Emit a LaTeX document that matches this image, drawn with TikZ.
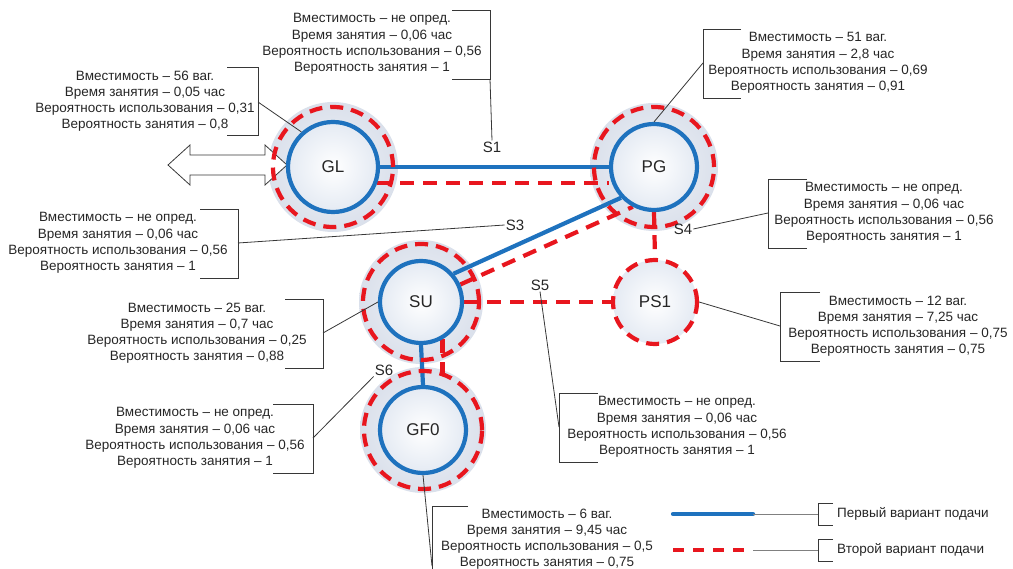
\documentclass[tikz,border=0pt]{standalone}
\usepackage{fontspec}
\setmainfont{Liberation Sans}
\usetikzlibrary{calc}
\definecolor{bl}{RGB}{30,114,190}
\definecolor{rd}{RGB}{232,22,30}
\definecolor{halo}{RGB}{218,224,235}
\definecolor{nfill}{RGB}{228,234,243}
\definecolor{ln}{RGB}{55,55,55}
\newcommand{\callfont}{\fontsize{13.5}{16.2}\selectfont}
\pgfdeclarelayer{halolayer}
\pgfdeclarelayer{links}
\pgfsetlayers{halolayer,links,main}
\begin{document}
\begin{tikzpicture}[x=1pt,y=-1pt,
  bnode/.style={circle, draw=bl, line width=4.2pt, inner sep=0pt, minimum size=#1,
    inner color=white, outer color=nfill, font=\fontsize{17}{20}\selectfont, text=black!85},
  rnode/.style={circle, draw=rd, line width=4.2pt, dash pattern=on 13pt off 8pt, inner sep=0pt,
    minimum size=#1, inner color=white, outer color=nfill, font=\fontsize{17}{20}\selectfont, text=black!85},
  redring/.style={draw=rd, line width=4.2pt, dash pattern=on 13pt off 8pt},
  haloshade/.style={inner color=halo!40, outer color=halo},
  bluelink/.style={draw=bl, line width=4.2pt},
  redlink/.style={draw=rd, line width=4.2pt, dash pattern=on 14pt off 9pt},
  call/.style={align=center, font=\callfont, inner sep=0pt, text=black!85},
  brk/.style={draw=ln, line width=0.9pt},
  lead/.style={draw=ln, line width=0.8pt},
  slab/.style={font=\fontsize{15}{18}\selectfont, inner sep=1pt, text=black!85},
  legtext/.style={font=\callfont, anchor=west, inner sep=0pt, text=black!85},
  dblarrow/.style={draw=ln, fill=white, line width=0.8pt, line join=miter}
]
\useasboundingbox (0,0) rectangle (1013,569);

% centres
\coordinate (cGL) at (333,167);
\coordinate (cPG) at (654,167);
\coordinate (cSU) at (421,302);
\coordinate (cGF) at (423,430);
\coordinate (cPS) at (655,302);

% halos
\begin{pgfonlayer}{halolayer}
  \shade[haloshade] (cGL) circle[radius=65pt];
  \shade[haloshade] (cPG) circle[radius=64pt];
  \shade[haloshade] (cSU) circle[radius=62pt];
  \shade[haloshade] (cGF) circle[radius=63pt];
\end{pgfonlayer}

% nodes
\node[bnode=90pt] (GL) at (cGL) {GL};
\node[bnode=86pt] (PG) at (cPG) {PG};
\node[bnode=82pt] (SU) at (cSU) {SU};
\node[bnode=86pt] (GF0) at (cGF) {GF0};
\node[rnode=84pt] (PS1) at (cPS) {PS1};

% red dashed rings
\draw[redring] (GL) circle[radius=60pt];
\draw[redring] (PG) circle[radius=60pt];
\draw[redring] (SU) circle[radius=58pt];
\draw[redring] (GF0) circle[radius=59pt];

% connectors
\begin{pgfonlayer}{links}
  \draw[dblarrow] (168,165) -- (190,145) -- (190,155) -- (265,155) -- (265,145) -- (287,165)
     -- (265,185) -- (265,175) -- (190,175) -- (190,185) -- cycle;
  \draw[bluelink] (GL.east) -- (PG.west);
  \draw[redlink] (GL.-20) -- (GL.-20 -| PG.west);
  \draw[bluelink] (PG.223) -- (SU.41);
  \draw[redlink] (SU.24) -- (PG.242);
  \draw[redlink] (PG.south) -- (PS1.north);
  \draw[redlink] (SU.east) -- (PS1.west);
  \draw[bluelink] (SU.south) -- (GF0.north);
  \draw[redlink] (SU.-60) -- (SU.-60 |- GF0.north);
\end{pgfonlayer}

% segment labels
\node[slab] (S1) at (492,147) {S1};
\node[slab] (S3) at (515,225) {S3};
\node[slab] (S4) at (683,229) {S4};
\node[slab] (S5) at (540,285) {S5};
\node[slab] (S6) at (384,370) {S6};

% callouts
\node[call] (tS1) at (372,44) {Вместимость – не опред.\\Время занятия – 0,06 час\\Вероятность использования – 0,56\\Вероятность занятия – 1};
\draw[brk] (452,10) -- (490,10) -- (490,79) -- (452,79);
\coordinate (kS1) at (490,79);
\draw[lead] (kS1) -- (S1.north);

\node[call] (tGL) at (145,101) {Вместимость – 56 ваг.\\Время занятия – 0,05 час\\Вероятность использования – 0,31\\Вероятность занятия – 0,8};
\draw[brk] (227,67) -- (258,67) -- (258,135) -- (227,135);
\coordinate (kGL) at (258,102);
\draw[lead] (kGL) -- (GL.132);

\node[call] (tPG) at (818,63) {Вместимость – 51 ваг.\\Время занятия – 2,8 час\\Вероятность использования – 0,69\\Вероятность занятия – 0,91};
\draw[brk] (741,29) -- (703,29) -- (703,98) -- (741,98);
\coordinate (kPG) at (703,63);
\draw[lead] (kPG) -- (PG.north);

\node[call] (tS3) at (118,243) {Вместимость – не опред.\\Время занятия – 0,06 час\\Вероятность использования – 0,56\\Вероятность занятия – 1};
\draw[brk] (200,209) -- (238,209) -- (238,278) -- (200,278);
\coordinate (kS3) at (238,243);
\draw[lead] (kS3) -- (S3.west);

\node[call] (tSU) at (197,333) {Вместимость – 25 ваг.\\Время занятия – 0,7 час\\Вероятность использования – 0,25\\Вероятность занятия – 0,88};
\draw[brk] (285,299) -- (323,299) -- (323,368) -- (285,368);
\coordinate (kSU) at (323,333);
\draw[lead] (kSU) -- (SU.west);

\node[call] (tS6) at (195,438) {Вместимость – не опред.\\Время занятия – 0,06 час\\Вероятность использования – 0,56\\Вероятность занятия – 1};
\draw[brk] (273,404) -- (313,404) -- (313,473) -- (273,473);
\coordinate (kS6) at (313,438);
\draw[lead] (kS6) -- (S6.south west);

\node[call] (tS5) at (677,427) {Вместимость – не опред.\\Время занятия – 0,06 час\\Вероятность использования – 0,56\\Вероятность занятия – 1};
\draw[brk] (598,393) -- (559,393) -- (559,462) -- (598,462);
\coordinate (kS5) at (559,427);
\draw[lead] (kS5) -- (S5.south);

\node[call] (tS4) at (884,213) {Вместимость – не опред.\\Время занятия – 0,06 час\\Вероятность использования – 0,56\\Вероятность занятия – 1};
\draw[brk] (807,179) -- (768,179) -- (768,248) -- (807,248);
\coordinate (kS4) at (768,213);
\draw[lead] (kS4) -- (S4.east);

\node[call] (tPS) at (898,326) {Вместимость – 12 ваг.\\Время занятия – 7,25 час\\Вероятность использования – 0,75\\Вероятность занятия – 0,75};
\draw[brk] (820,292) -- (780,292) -- (780,361) -- (820,361);
\coordinate (kPS) at (780,326);
\draw[lead] (kPS) -- (PS1.east);

\node[call] (tGF) at (547,539) {Вместимость – 6 ваг.\\Время занятия – 9,45 час\\Вероятность использования – 0,5\\Вероятность занятия – 0,75};
\draw[brk] (468,506) -- (432,506) -- (432,569);
\coordinate (kGF) at (432,566);
\draw[lead] (GF0.south) -- (kGF);

% legend
\coordinate (la1) at (673,514);
\coordinate (la2) at (753,514);
\coordinate (la3) at (818,514);
\coordinate (lb1) at (673,550);
\coordinate (lb2) at (753,550);
\coordinate (lb3) at (818,550);
\draw[bluelink, line cap=round] (la1) -- (la2);
\draw[lead, draw=gray] (la2) -- (la3);
\draw[redlink, dash pattern=on 11pt off 9pt] (lb1) -- (lb2);
\draw[lead, draw=gray] (lb2) -- (lb3);
\draw[brk] (833,503) -- (818,503) -- (818,525) -- (833,525);
\draw[brk] (833,539) -- (818,539) -- (818,561) -- (833,561);
\node[legtext] (leg1) at (837,514) {Первый вариант подачи};
\node[legtext] (leg2) at (837,550) {Второй вариант подачи};
\end{tikzpicture}
\end{document}
